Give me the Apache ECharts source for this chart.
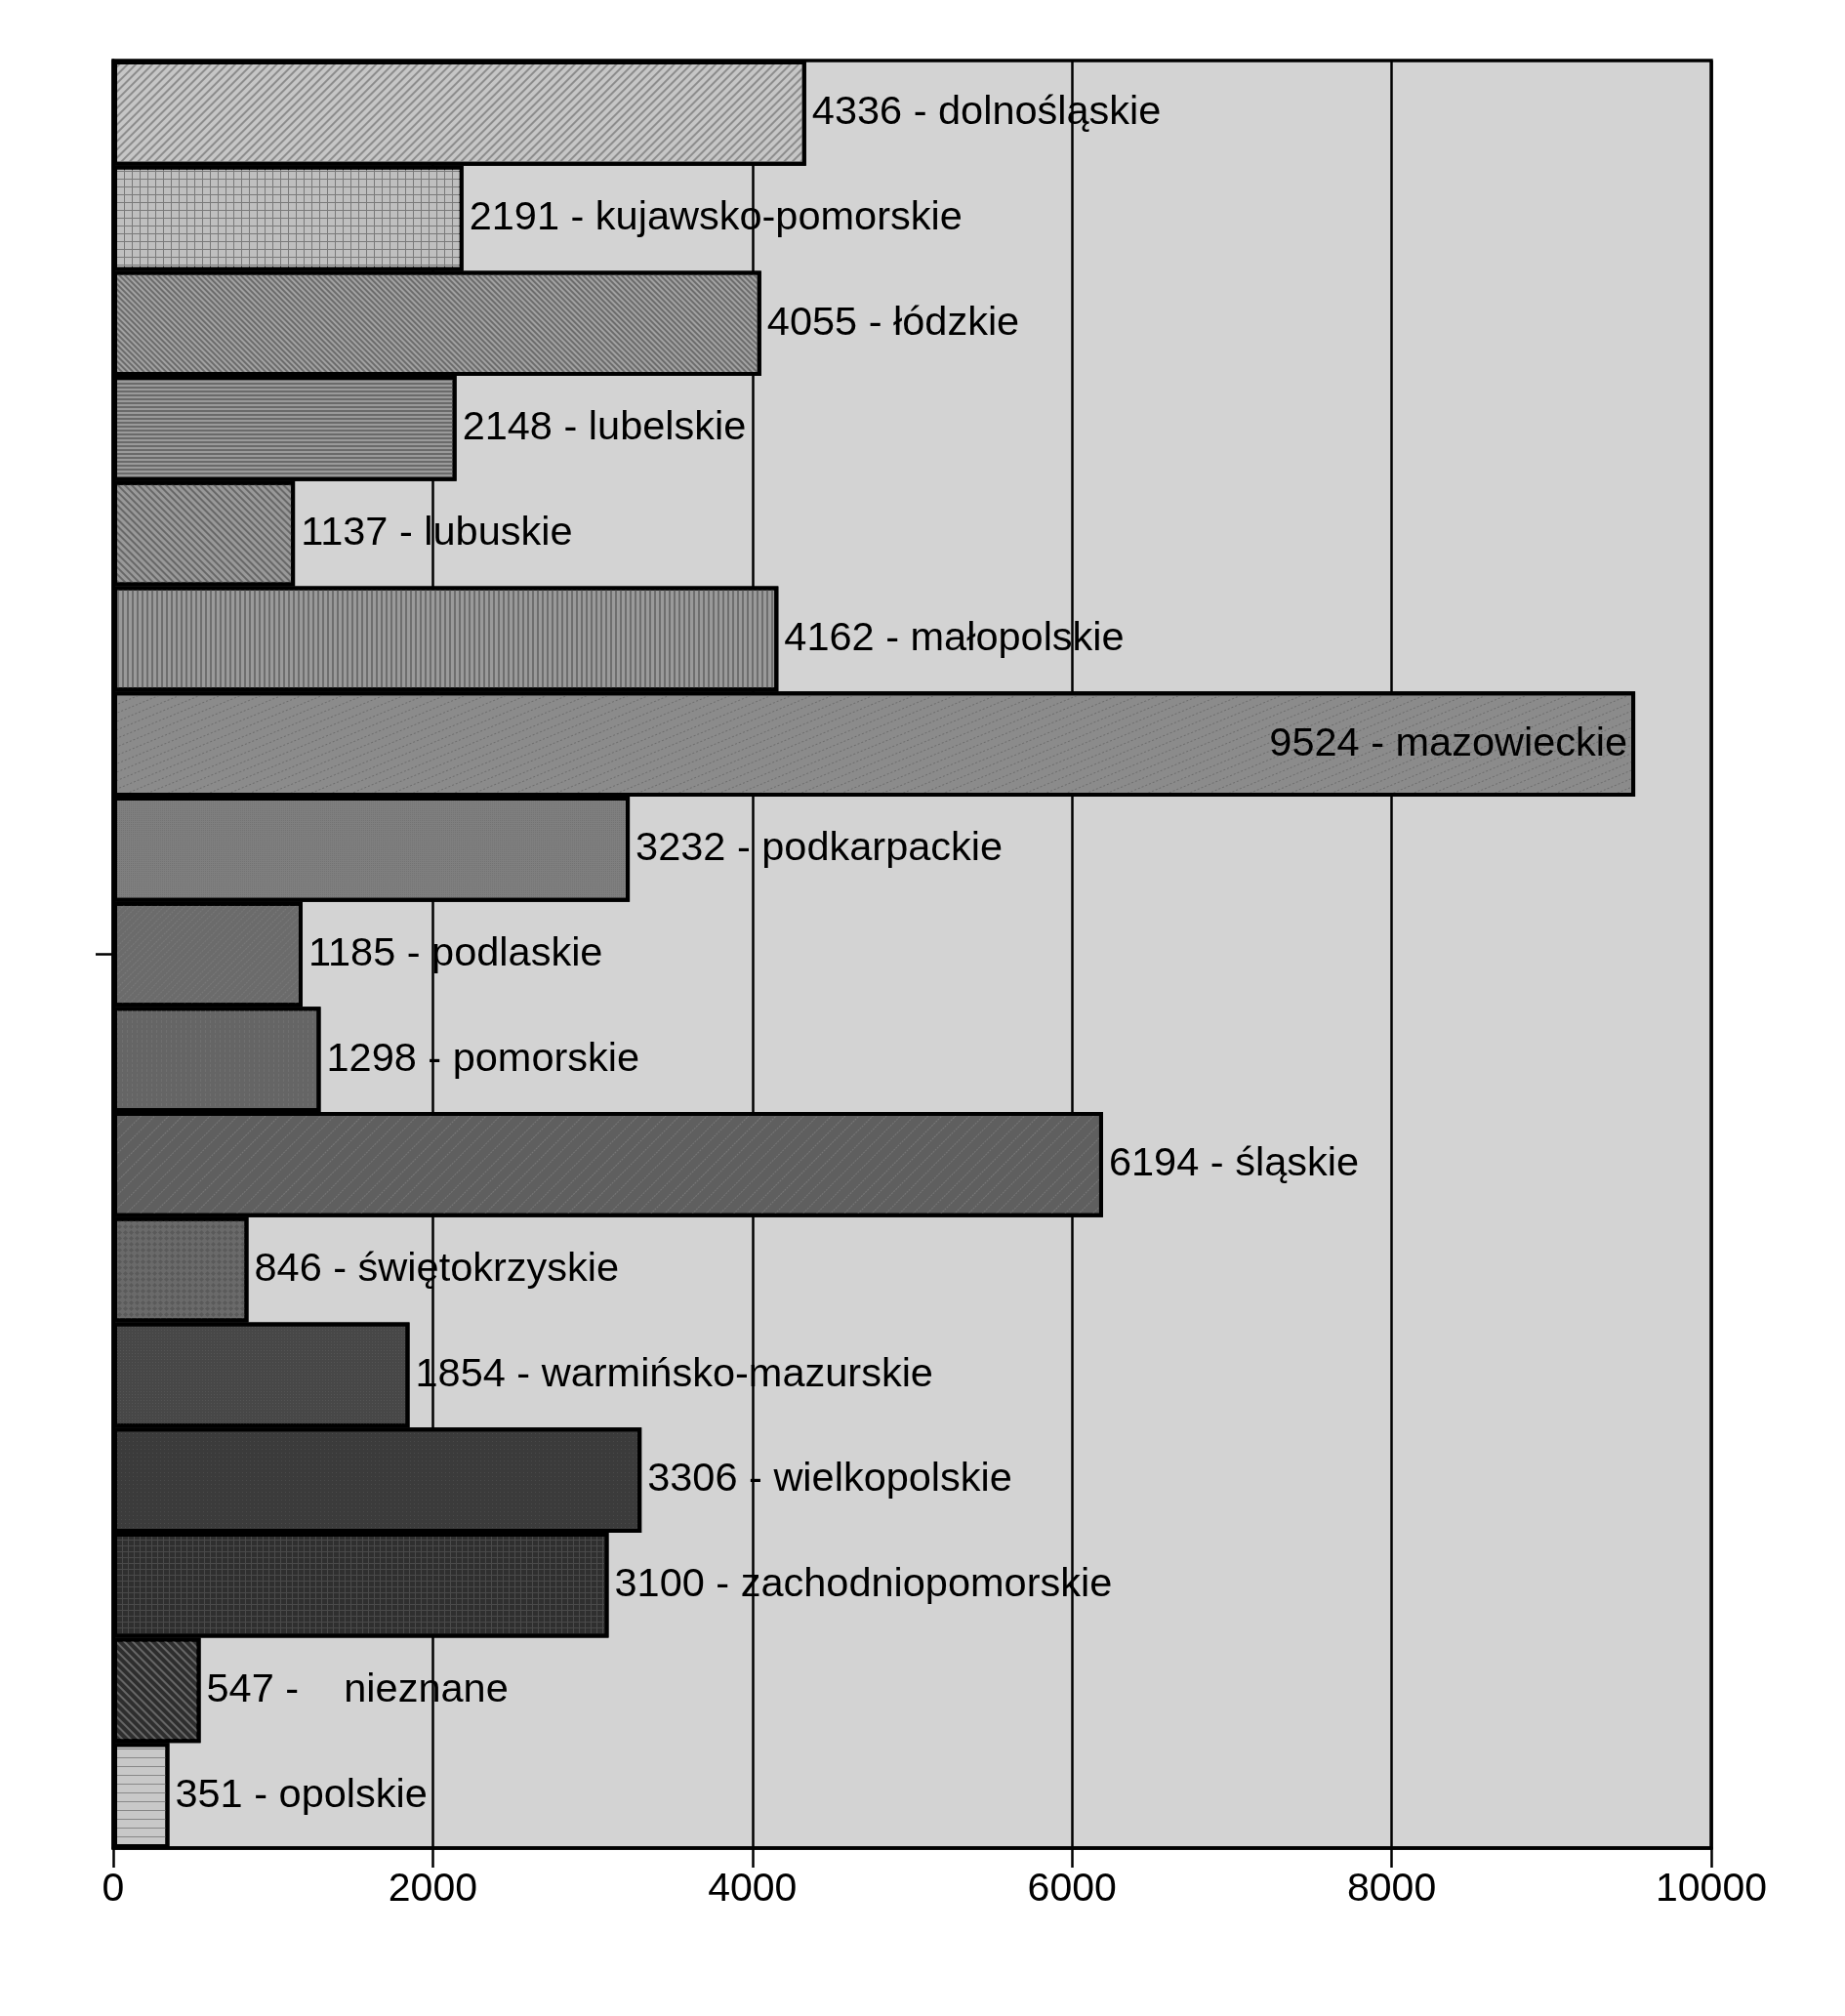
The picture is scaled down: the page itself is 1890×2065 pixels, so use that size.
<!DOCTYPE html>
<html>
<head>
<meta charset="utf-8">
<script src="https://cdn.jsdelivr.net/npm/echarts@6/dist/echarts.min.js"></script>
<style>
html,body{margin:0;padding:0;background:#fff;}
#chart{width:1890px;height:2065px;}
</style>
</head>
<body>
<div id="chart"></div>
<script>
// ---- data ----
const categories = ['dolnośląskie','kujawsko-pomorskie','łódzkie','lubelskie','lubuskie','małopolskie','mazowieckie','podkarpackie','podlaskie','pomorskie','śląskie','świętokrzyskie','warmińsko-mazurskie','wielkopolskie','zachodniopomorskie','   nieznane','opolskie'];
const values = [4336,2191,4055,2148,1137,4162,9524,3232,1185,1298,6194,846,1854,3306,3100,547,351];
const xTicks = [0,2000,4000,6000,8000,10000];

// ---- styles ----
const fills = ['#c6c6c6','#7a7a7a','#a2a2a2','#9a9a9a','#999999','#9a9a9a','#8b8b8b','#7f7f7f','#6b6b6b','#656565','#5f5f5f','#6a6a6a','#474747','#3b3b3b','#4a4a4a','#2e2e2e','#c8c8c8'];
const decals = [
  {color:'#8c8c8c', dashArrayX:[1,0], dashArrayY:[1.5,4], rotation:-Math.PI/4},
  {color:'#bfbfbf', dashArrayX:[7,1], dashArrayY:[7,1], rotation:0},
  {color:'#6c6c6c', dashArrayX:[1,0], dashArrayY:[2,2], rotation:Math.PI/4},
  {color:'#6a6a6a', dashArrayX:[1,0], dashArrayY:[1.5,2], rotation:0},
  {color:'#686868', dashArrayX:[1,0], dashArrayY:[2,2.5], rotation:Math.PI/4},
  {color:'#6e6e6e', dashArrayX:[2,2.3], dashArrayY:[1,0], rotation:0},
  {color:'#6d6d6d', dashArrayX:[2,2], dashArrayY:[1,7], rotation:-Math.PI/8},
  {color:'#737373', dashArrayX:[1,1], dashArrayY:[1,1], rotation:0},
  {color:'#787878', dashArrayX:[2,1], dashArrayY:[1,4], rotation:-Math.PI/4},
  {color:'#6f6f6f', dashArrayX:[1,4], dashArrayY:[3,2], rotation:0},
  {color:'#777777', dashArrayX:[2,1], dashArrayY:[1,9], rotation:-Math.PI/4},
  {color:'#5a5a5a', symbol:'diamond', dashArrayX:[5,1], dashArrayY:[5,1], rotation:0},
  {color:'#555555', dashArrayX:[1,2], dashArrayY:[1,2], rotation:0},
  {color:'#4a4a4a', dashArrayX:[1,3], dashArrayY:[1,3], rotation:0},
  {color:'#2f2f2f', dashArrayX:[5,1], dashArrayY:[5,1], rotation:0},
  {color:'#666666', dashArrayX:[1,0], dashArrayY:[1.2,4], rotation:Math.PI/4},
  {color:'#888888', dashArrayX:[1,0], dashArrayY:[1,7.5], rotation:0}
];

const FONT = '"Liberation Sans", Arial, sans-serif';

const barData = values.map((v,i)=>({
  value: v,
  itemStyle: {
    color: fills[i],
    decal: Object.assign({symbol:'rect', symbolSize:1}, decals[i])
  },
  label: v > 9000 ? {position:'insideRight', distance:8} : undefined
}));

const chart = echarts.init(document.getElementById('chart'), null, {renderer:'canvas'});
chart.setOption({
  animation: false,
  backgroundColor: '#ffffff',
  grid: {
    left: 116, right: 137, top: 62, bottom: 172,
    show: true, backgroundColor: '#d3d3d3', borderColor: '#000', borderWidth: 3.5
  },
  xAxis: {
    type: 'value', min: xTicks[0], max: xTicks[xTicks.length-1], interval: 2000,
    axisLine: {show:true, lineStyle:{color:'#000', width:3.5}},
    axisTick: {show:true, length:20, lineStyle:{color:'#000', width:2.5}},
    splitLine: {show:true, lineStyle:{color:'#000', width:2.5}},
    axisLabel: {color:'#000', fontSize:41, fontFamily:FONT, margin:22, formatter: v => String(v)}
  },
  yAxis: [{
    type: 'category', data: categories, inverse: true,
    axisLine: {show:true, lineStyle:{color:'#000', width:3.5}},
    axisTick: {show:false},
    axisLabel: {show:false},
    splitLine: {show:false}
  },{
    type: 'value', min: 0, max: 1, position: 'left',
    axisLine: {show:false},
    axisTick: {show:true, length:18, customValues:[0.5], lineStyle:{color:'#000', width:2.5}},
    axisLabel: {show:false},
    splitLine: {show:false}
  }],
  series: [{
    type: 'bar',
    yAxisIndex: 0,
    data: barData,
    barCategoryGap: '0%',
    barWidth: '100%',
    itemStyle: {borderColor:'#000', borderWidth:4},
    label: {
      show: true, position: 'right', distance: 6,
      color: '#000', fontSize: 41.5, fontFamily: FONT,
      formatter: p => p.value + ' - ' + p.name
    }
  }]
});
</script>
</body>
</html>
